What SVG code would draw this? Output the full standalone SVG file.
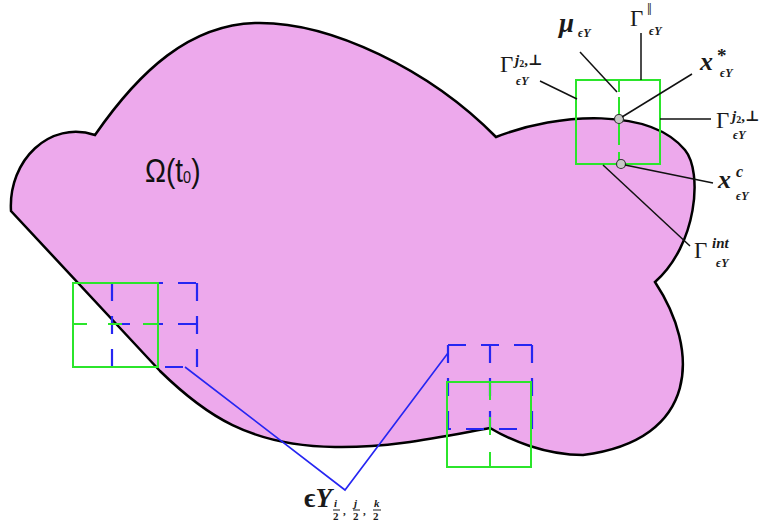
<svg xmlns="http://www.w3.org/2000/svg" width="766" height="527" viewBox="0 0 766 527">
<style>
.dom{fill:#EDA9EC;stroke:#000;stroke-width:2.5;stroke-linejoin:miter}
.gs{fill:none;stroke:#2BE52B;stroke-width:2}
.bd{fill:none;stroke:#2626F2;stroke-width:2.2;stroke-dasharray:18 15}
.bl{fill:none;stroke:#2626F2;stroke-width:1.6}
.ptr{stroke:#111;stroke-width:1.5;fill:none}
.pt{fill:#C8C8C8;stroke:#333;stroke-width:1.2}
.m{font-family:"Liberation Serif","DejaVu Serif",serif;fill:#1a1a1a}
.bi{font-style:italic;font-weight:bold}
.b{font-weight:bold}
.sub{font-size:12px;font-style:italic;font-weight:bold}
.om{font-family:"Liberation Sans","Noto Sans",sans-serif;fill:#111}
</style>
<rect width="766" height="527" fill="#fff"/>
<g id="domain">
<path class="dom" d="M11,211 C8,160 50,120 95,135 C140,70 190,25 255,23 C330,21 430,70 496,137 C560,112 650,108 685,150 C703,172 697,245 655,282 C700,350 700,440 583,455 C545,455 510,440 490,428 C440,437 390,448 335,447 C250,446 205,415 160,371 Z"/>
<text class="om" transform="translate(145,182) scale(0.85,1)" font-size="33">Ω(t<tspan font-size="17" dy="1">0</tspan><tspan dy="-1">)</tspan></text>
</g>
<g id="cell-top">
<rect class="gs" x="576" y="80" width="84" height="84"/>
<path class="gs" d="M619,80 V92 M619,97 V115 M619,123 V145 M619,152 V164"/>
<circle class="pt" cx="619" cy="119" r="4.5"/>
<circle class="pt" cx="621" cy="164" r="4.5"/>
</g>
<g id="cell-left">
<path class="bd" d="M112,283 H197 M112,324 H197 M112,283 V367 M197,283 V367"/>
<path class="bd" d="M112,367 H197" stroke-dashoffset="13"/>
<rect class="gs" x="73" y="283" width="85" height="84"/>
<path class="gs" d="M73,324 H158" stroke-dasharray="14 21"/>
</g>
<g id="cell-bottom">
<path class="bd" d="M448,345 H532 M448,345 V429 M532,345 V429 M490,345 V429"/>
<path class="bd" d="M448,429 H532" stroke-dashoffset="15"/>
<rect class="gs" x="447" y="382" width="84" height="85"/>
<path class="gs" d="M490,382 V467" stroke-dasharray="18 17"/>
</g>
<g id="connectors">
<polyline class="bl" points="185,367 345,490 448,353"/>
<line class="ptr" x1="540" y1="81" x2="577" y2="99"/>
<line class="ptr" x1="580" y1="52" x2="617" y2="92"/>
<line class="ptr" x1="641" y1="33" x2="641" y2="80"/>
<line class="ptr" x1="692" y1="74" x2="622" y2="117"/>
<line class="ptr" x1="660" y1="119" x2="711" y2="119"/>
<line class="ptr" x1="625" y1="165" x2="713" y2="183"/>
<line class="ptr" x1="603" y1="165" x2="690" y2="246"/>
</g>
<g id="labels">
<text class="m" x="500" y="72" font-size="23">Γ<tspan class="bi" font-size="15" x="515" y="65">j</tspan><tspan class="b" font-size="10" dy="2">2</tspan><tspan class="b" font-size="15" dy="-2">,⊥</tspan></text>
<text class="m sub" x="516" y="85">ϵY</text>
<text class="m bi" x="559" y="32" font-size="27">μ</text>
<text class="m sub" x="578" y="37" font-size="13">ϵY</text>
<text class="m" x="630" y="26" font-size="23">Γ</text>
<text class="m" x="647" y="15" font-size="17">‖</text>
<text class="m sub" x="649" y="35">ϵY</text>
<text class="m bi" x="700" y="70" font-size="26">x</text>
<text class="m b" x="717" y="62" font-size="19">*</text>
<text class="m sub" x="720" y="77">ϵY</text>
<text class="m" x="716" y="128" font-size="23">Γ<tspan class="bi" font-size="15" x="732" y="121">j</tspan><tspan class="b" font-size="10" dy="2">2</tspan><tspan class="b" font-size="15" dy="-2">,⊥</tspan></text>
<text class="m sub" x="733" y="139">ϵY</text>
<text class="m bi" x="718" y="188" font-size="26">x</text>
<text class="m bi" x="736" y="177" font-size="16">c</text>
<text class="m sub" x="736" y="200">ϵY</text>
<text class="m" x="694" y="258" font-size="23">Γ</text>
<text class="m bi" x="712" y="248" font-size="15">int</text>
<text class="m sub" x="716" y="267">ϵY</text>
<text class="m" x="304" y="507" font-size="27"><tspan class="b">ϵ</tspan><tspan class="bi">Y</tspan></text>
<g class="m b" font-size="11">
<text class="bi" x="334" y="507">i</text><text x="333" y="520">2</text>
<text x="343" y="515">,</text>
<text class="bi" x="354" y="507">j</text><text x="353" y="520">2</text>
<text x="363" y="515">,</text>
<text class="bi" x="374" y="507">k</text><text x="373" y="520">2</text>
</g>
<path stroke="#1a1a1a" stroke-width="1" d="M333,510 H340 M353,510 H360 M373,510 H381"/>
</g>
</svg>
